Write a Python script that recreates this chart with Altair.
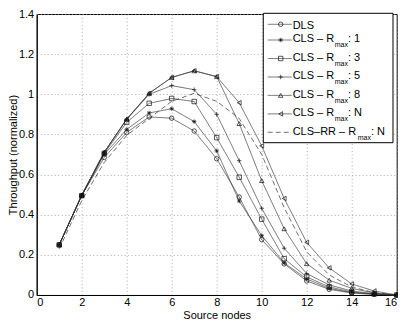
import altair as alt
import pandas as pd

# ---------------- data ----------------
nodes = list(range(1, 17))

series = ["DLS", "R1", "R3", "R5", "R8", "RN", "RRN"]

dls  = [0.25, 0.495, 0.685, 0.81, 0.887, 0.881, 0.817, 0.679, 0.488, 0.276, 0.155, 0.07, 0.028, 0.01, 0.003, 0.0]
r1   = [0.25, 0.495, 0.70, 0.825, 0.907, 0.928, 0.864, 0.718, 0.468, 0.296, 0.16, 0.08, 0.033, 0.012, 0.004, 0.0]
r3   = [0.25, 0.495, 0.705, 0.86, 0.955, 0.979, 0.964, 0.784, 0.587, 0.378, 0.181, 0.09, 0.04, 0.015, 0.005, 0.0]
r5   = [0.25, 0.497, 0.71, 0.875, 1.0, 1.043, 1.023, 0.90, 0.669, 0.432, 0.233, 0.107, 0.05, 0.02, 0.006, 0.0]
r8   = [0.25, 0.497, 0.711, 0.876, 1.005, 1.084, 1.117, 1.088, 0.854, 0.570, 0.330, 0.156, 0.074, 0.033, 0.01, 0.0]
rn   = [0.25, 0.497, 0.711, 0.876, 1.005, 1.084, 1.117, 1.088, 0.958, 0.743, 0.481, 0.262, 0.135, 0.055, 0.02, 0.0]
rrn  = [0.23, 0.47, 0.66, 0.795, 0.88, 0.965, 1.005, 0.965, 0.88, 0.70, 0.435, 0.215, 0.10, 0.04, 0.012, 0.0]

values = [dls, r1, r3, r5, r8, rn, rrn]

legend_main = ["DLS", "CLS \u2013 R", "CLS \u2013 R", "CLS \u2013 R", "CLS \u2013 R", "CLS \u2013 R", "CLS\u2013RR \u2013 R"]
legend_sub  = ["", "max", "max", "max", "max", "max", "max"]
legend_tail = ["", ": 1", ": 3", ": 5", ": 8", ": N", ": N"]

x_ticks = [0, 2, 4, 6, 8, 10, 12, 14, 16]
y_ticks = [0, 0.2, 0.4, 0.6, 0.8, 1.0, 1.2, 1.4]

# ---------------- styles ----------------
ASTERISK = "M-1,0L1,0M0,-1L0,1M-0.7,-0.7L0.7,0.7M-0.7,0.7L0.7,-0.7"
PLUS = "M-1,0L1,0M0,-1L0,1"
shapes = ["circle", ASTERISK, "square", PLUS, "triangle-up", "triangle-left"]
dashes = [[1, 0]] * 6 + [[5, 3]]

W, H = 360, 281

rows = []
for s, vals in zip(series, values):
    for n, v in zip(nodes, vals):
        rows.append({"series": s, "nodes": n, "tp": v})
df = pd.DataFrame(rows)

dash_scale = alt.Scale(domain=series, range=dashes)
shape_scale = alt.Scale(domain=series[:6], range=shapes)

FONT = "Liberation Sans"
MSIZE = 20

base = alt.Chart(df).encode(
    x=alt.X("nodes:Q", scale=alt.Scale(domain=[0, 16], nice=False, zero=False),
            axis=alt.Axis(values=x_ticks, title="Source nodes", titleY=24,
                          titleBaseline="alphabetic", labelPadding=2)),
    y=alt.Y("tp:Q", scale=alt.Scale(domain=[0, 1.4], nice=False),
            axis=alt.Axis(values=y_ticks, format="~g", title="Throughput (normalized)",
                          titleX=-23, titleY=H / 2, titleBaseline="middle", titleAlign="center",
                          titleAngle=270, labelPadding=3)),
)

lines = base.mark_line(stroke="#333", strokeWidth=0.7).encode(
    strokeDash=alt.StrokeDash("series:N", scale=dash_scale, legend=None),
    detail="series:N",
)
points = base.transform_filter(alt.datum.series != "RRN").mark_point(
    filled=False, color="#111", strokeWidth=0.7, size=MSIZE, opacity=1
).encode(shape=alt.Shape("series:N", scale=shape_scale, legend=None))

main = alt.layer(lines, points)

# ---------------- manual MATLAB-style legend ----------------
row_y = [10.3, 26.0, 44.5, 63.0, 81.4, 99.9, 118.3]
leg = pd.DataFrame({
    "series": series,
    "main": legend_main,
    "sub": legend_sub,
    "tail": legend_tail,
    "ly": row_y,
})
leg["ty"] = [y + (4.3 if s == "" else 2.4) for y, s in zip(row_y, legend_sub)]
leg["sy"] = [y + 7.4 for y in row_y]
leg["sx"] = [0, 298, 298, 298, 298, 298, 321]
leg["tx"] = [0, 311.3, 311.3, 311.3, 311.3, 311.3, 334.3]

pix_y = alt.Scale(domain=[0, H], range=[0, H], nice=False, zero=False)
pix_x = alt.Scale(domain=[0, W], range=[0, W], nice=False, zero=False)

box = alt.Chart(pd.DataFrame({"a": [0]})).mark_rect(
    fill="white", stroke="black", strokeWidth=1
).encode(x=alt.value(226.6), x2=alt.value(356.3), y=alt.value(-0.7), y2=alt.value(128.7))

leg_lines = alt.Chart(leg).mark_rule(stroke="#333", strokeWidth=0.7).encode(
    x=alt.value(231), x2=alt.value(255),
    y=alt.Y("ly:Q", scale=pix_y, axis=None),
    strokeDash=alt.StrokeDash("series:N", scale=dash_scale, legend=None),
)
leg_pts = alt.Chart(leg).transform_filter(alt.datum.series != "RRN").mark_point(
    filled=False, color="#111", strokeWidth=0.7, size=MSIZE, opacity=1
).encode(
    x=alt.value(244),
    y=alt.Y("ly:Q", scale=pix_y, axis=None),
    shape=alt.Shape("series:N", scale=shape_scale, legend=None),
)
leg_main = alt.Chart(leg).mark_text(
    align="left", baseline="alphabetic", font=FONT, fontSize=11, color="black"
).encode(x=alt.value(256), y=alt.Y("ty:Q", scale=pix_y, axis=None), text="main:N")
leg_sub = alt.Chart(leg).mark_text(
    align="left", baseline="alphabetic", font=FONT, fontSize=7, color="black"
).encode(x=alt.X("sx:Q", scale=pix_x, axis=None), y=alt.Y("sy:Q", scale=pix_y, axis=None), text="sub:N")
leg_tail = alt.Chart(leg).mark_text(
    align="left", baseline="alphabetic", font=FONT, fontSize=11, color="black"
).encode(x=alt.X("tx:Q", scale=pix_x, axis=None), y=alt.Y("ty:Q", scale=pix_y, axis=None), text="tail:N")

legend = alt.layer(box, leg_lines, leg_pts, leg_main, leg_sub, leg_tail)

chart = alt.layer(main, legend).resolve_scale(
    x="independent", y="independent"
).properties(
    width=W, height=H,
    autosize=alt.AutoSizeParams(type="none"),
    padding={"left": 28.7, "top": 6, "right": 1, "bottom": 27},
).configure_view(
    stroke="black", strokeWidth=1
).configure_axis(
    labelFont=FONT, labelFontSize=11, labelColor="black",
    titleFont=FONT, titleFontSize=11, titleFontWeight="normal", titleColor="black",
    domainColor="black", domainWidth=1, ticks=False,
    grid=True, gridColor="#999", gridDash=[1, 2.5], gridWidth=0.8,
)

chart.save("out.html", embed_options={"renderer": "svg", "actions": False})
